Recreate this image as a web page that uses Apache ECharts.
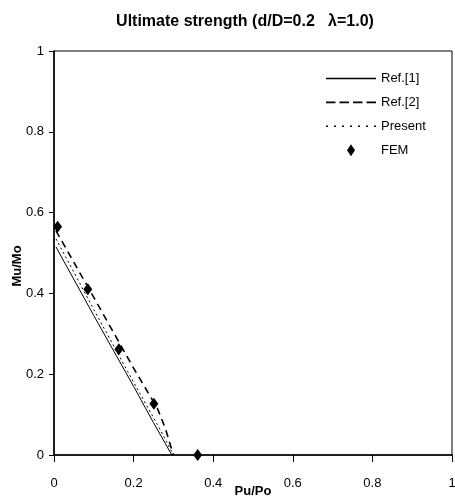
<!DOCTYPE html>
<html>
<head>
<meta charset="utf-8">
<script src="https://cdn.jsdelivr.net/npm/echarts@6/dist/echarts.min.js"></script>
<style>html,body{margin:0;padding:0;background:#fff}#c{width:455px;height:500px}</style>
</head>
<body>
<div id="c"></div>
<script>
var xTicks = [0, 0.2, 0.4, 0.6, 0.8, 1];
var yTicks = [0, 0.2, 0.4, 0.6, 0.8, 1];
var ref1X = [0.005, 0.1, 0.2, 0.25, 0.296];
var ref1Y = [0.515, 0.345, 0.17, 0.08, 0];
var ref2X = [0.005, 0.1, 0.2, 0.26, 0.28, 0.3];
var ref2Y = [0.555, 0.39, 0.215, 0.115, 0.065, 0];
var presX = [0.005, 0.1, 0.2, 0.26, 0.3];
var presY = [0.535, 0.36, 0.18, 0.075, 0];
var femX = [0.009, 0.085, 0.163, 0.251, 0.361];
var femY = [0.565, 0.41, 0.262, 0.127, 0];
var legendNames = ['Ref.[1]', 'Ref.[2]', 'Present', 'FEM'];

function pairs(xs, ys) { return xs.map(function (x, i) { return [x, ys[i]]; }); }
var FONT = '"Liberation Sans", Arial, sans-serif';

var ICON_SOLID = 'path://M0,0h50v1.3h-50z';
var ICON_DASH = 'path://M0,0h9.5v1.6h-9.5z M13.5,0h9.5v1.6h-9.5z M27,0h9.5v1.6h-9.5z M40.5,0h9.5v1.6h-9.5z';
var ICON_DOT = 'path://M0,0h2v1.4h-2z M8,0h2v1.4h-2z M16,0h2v1.4h-2z M24,0h2v1.4h-2z M32,0h2v1.4h-2z M40,0h2v1.4h-2z M48,0h2v1.4h-2z';
var ICON_DIAMOND = 'path://M4,0L8,6L4,12L0,6z';

var chart = echarts.init(document.getElementById('c'), null, { renderer: 'canvas' });
chart.setOption({
  animation: false,
  backgroundColor: '#fff',
  textStyle: { fontFamily: FONT, color: '#000' },
  title: {
    text: 'Ultimate strength (d/D=0.2   \u03bb=1.0)',
    left: 240, top: 9, textAlign: 'center',
    textStyle: { fontFamily: FONT, fontSize: 16, fontWeight: 'bold', color: '#000' }
  },
  grid: { left: 54, right: 3, top: 51, bottom: 45, show: true, borderColor: '#000', borderWidth: 1,
    outerBoundsMode: 'none', containLabel: false },
  legend: {
    orient: 'vertical', left: 321, top: 67, itemWidth: 50, itemHeight: 12, itemGap: 10.9,
    textStyle: { fontFamily: FONT, fontSize: 13, color: '#000' },
    data: [
      { name: legendNames[0], icon: ICON_SOLID },
      { name: legendNames[1], icon: ICON_DASH },
      { name: legendNames[2], icon: ICON_DOT },
      { name: legendNames[3], icon: ICON_DIAMOND }
    ]
  },
  xAxis: {
    type: 'value', min: 0, max: 1, interval: 0.2,
    name: 'Pu/Po', nameLocation: 'middle', nameGap: 30, nameMoveOverlap: false,
    nameTextStyle: { fontFamily: FONT, fontSize: 13, fontWeight: 'bold', color: '#000' },
    axisLine: { show: true, lineStyle: { color: '#000', width: 1.5 } },
    axisTick: { show: true, inside: false, length: 7, lineStyle: { color: '#000' } },
    axisLabel: { margin: 22, fontFamily: FONT, fontSize: 13, color: '#000',
      formatter: function (v) { return xTicks.indexOf(v) >= 0 ? String(v) : ''; } },
    splitLine: { show: false }
  },
  yAxis: {
    type: 'value', min: 0, max: 1, interval: 0.2,
    axisLine: { show: true, lineStyle: { color: '#000', width: 1.5 } },
    axisTick: { show: true, inside: false, length: 5, lineStyle: { color: '#000' } },
    axisLabel: { margin: 10, fontFamily: FONT, fontSize: 13, color: '#000',
      formatter: function (v) { return yTicks.indexOf(v) >= 0 ? String(v) : ''; } },
    splitLine: { show: false }
  },
  graphic: [{
    type: 'text', x: 17, y: 266, rotation: Math.PI / 2,
    style: { text: 'Mu/Mo', font: 'bold 13px ' + FONT, fill: '#000', align: 'center', verticalAlign: 'middle' }
  }],
  series: [
    { name: legendNames[0], type: 'line', data: pairs(ref1X, ref1Y), symbol: 'none',
      lineStyle: { color: '#000', width: 1, type: 'solid' }, itemStyle: { color: '#000' } },
    { name: legendNames[1], type: 'line', data: pairs(ref2X, ref2Y), symbol: 'none',
      lineStyle: { color: '#000', width: 1.6, type: [7, 5] }, itemStyle: { color: '#000' } },
    { name: legendNames[2], type: 'line', data: pairs(presX, presY), symbol: 'none',
      lineStyle: { color: '#000', width: 1, type: [2, 3] }, itemStyle: { color: '#000' } },
    { name: legendNames[3], type: 'scatter', data: pairs(femX, femY), symbol: 'diamond', symbolSize: [9, 12],
      itemStyle: { color: '#000', opacity: 1 } }
  ]
});
</script>
</body>
</html>
